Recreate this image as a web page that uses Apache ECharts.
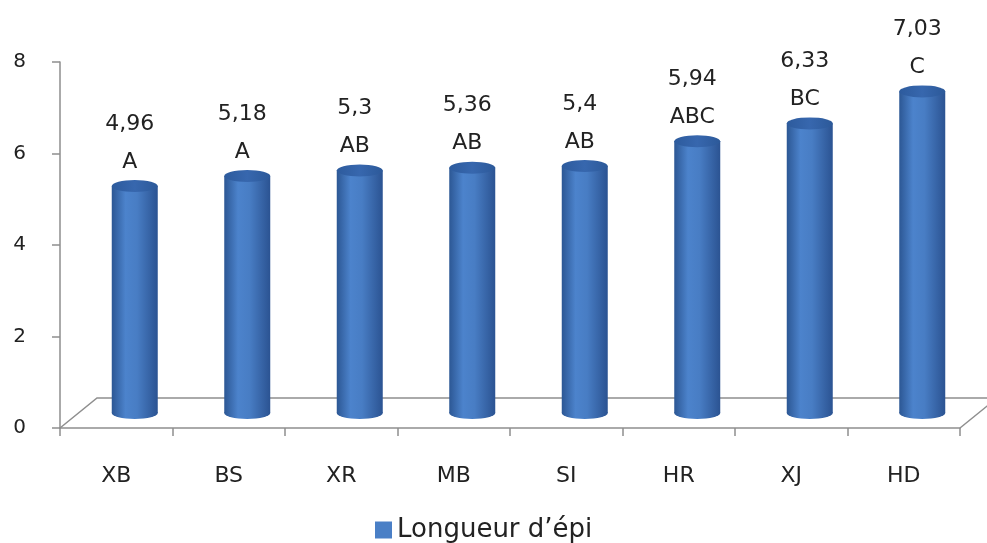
<!DOCTYPE html>
<html>
<head>
<meta charset="utf-8">
<script src="https://cdn.jsdelivr.net/npm/echarts@6/dist/echarts.min.js"></script>
<style>
  html, body { margin: 0; padding: 0; background: #ffffff; }
  #chart { width: 987px; height: 543px; }
</style>
</head>
<body>
<div id="chart"></div>
<script>
// Ear length by variety, with significance groups
const categories = ['XB', 'BS', 'XR', 'MB', 'SI', 'HR', 'XJ', 'HD'];
const values = [4.96, 5.18, 5.3, 5.36, 5.4, 5.94, 6.33, 7.03];
const groups = ['A', 'A', 'AB', 'AB', 'AB', 'ABC', 'BC', 'C'];
const seriesName = 'Longueur d\u2019épi';
const yMin = 0, yMax = 8, yStep = 2;

// Plot layout: front plane of the pseudo-3D box, and its depth offset
const W = 987, H = 543;
const front = { left: 60, top: 62, right: 27, bottom: 115 };
const depth = { dx: 37, dy: -30 };
const mid = { dx: depth.dx / 2, dy: depth.dy / 2 };

const FONT = 'DejaVu Sans';
const axisGray = '#8e8e8e';
const barW = 46;

const bodyColor = new echarts.graphic.LinearGradient(0, 0, 1, 0, [
  { offset: 0, color: '#2c5794' },
  { offset: 0.3, color: '#4c83cc' },
  { offset: 0.55, color: '#487dc4' },
  { offset: 1, color: '#2b5392' }
]);
const capColor = new echarts.graphic.LinearGradient(0, 0, 1, 0, [
  { offset: 0, color: '#2d5b9d' },
  { offset: 0.5, color: '#3767ae' },
  { offset: 1, color: '#2c5999' }
]);

const fmt = v => String(v).replace('.', ',');

const frontOrigin = [front.left, H - front.bottom];
const frontEnd = [W - front.right, H - front.bottom];
const floorGraphics = [
  {
    type: 'polyline', silent: true, z: 1,
    shape: { points: [frontOrigin, [frontOrigin[0] + depth.dx, frontOrigin[1] + depth.dy], [frontEnd[0] + depth.dx, frontEnd[1] + depth.dy]] },
    style: { stroke: axisGray, lineWidth: 1.5, fill: null }
  },
  {
    type: 'line', silent: true, z: 1,
    shape: { x1: frontEnd[0], y1: frontEnd[1], x2: frontEnd[0] + depth.dx, y2: frontEnd[1] + depth.dy },
    style: { stroke: axisGray, lineWidth: 1.5 }
  }
];

const option = {
  backgroundColor: '#ffffff',
  animation: false,
  textStyle: { fontFamily: FONT },
  graphic: floorGraphics,
  legend: {
    bottom: 0,
    left: 375,
    padding: 0,
    itemWidth: 17,
    itemHeight: 17,
    itemGap: 6,
    icon: 'rect',
    data: [{ name: seriesName, itemStyle: { color: '#4a7fc6' } }],
    textStyle: { fontFamily: FONT, fontSize: 26, color: '#222' }
  },
  grid: [
    { left: front.left, top: front.top, right: front.right, bottom: front.bottom },
    { left: front.left + mid.dx, top: front.top + mid.dy, right: front.right - mid.dx, bottom: front.bottom - mid.dy }
  ],
  xAxis: [
    {
      gridIndex: 0, type: 'category', data: categories, boundaryGap: true,
      axisLine: { lineStyle: { color: axisGray, width: 1.5 } },
      axisTick: { show: true, length: 8, lineStyle: { color: axisGray, width: 1.5 } },
      axisLabel: { margin: 37, fontFamily: FONT, fontSize: 22, color: '#222' },
      splitLine: { show: false }
    },
    {
      gridIndex: 1, type: 'category', data: categories, boundaryGap: true,
      show: false
    }
  ],
  yAxis: [
    {
      gridIndex: 0, type: 'value', min: yMin, max: yMax, interval: yStep,
      axisLine: { show: true, lineStyle: { color: axisGray, width: 1.5 } },
      axisTick: { show: true, length: 8, lineStyle: { color: axisGray, width: 1.5 } },
      axisLabel: { margin: 34, fontFamily: FONT, fontSize: 20, color: '#222' },
      splitLine: { show: false }
    },
    {
      gridIndex: 1, type: 'value', min: yMin, max: yMax, interval: yStep,
      show: false
    }
  ],
  series: [
    {
      name: seriesName,
      type: 'bar',
      xAxisIndex: 1, yAxisIndex: 1,
      barWidth: barW,
      z: 3,
      itemStyle: { color: bodyColor },
      data: values,
      label: {
        show: true,
        position: 'top',
        distance: 5,
        offset: [-5, 0],
        formatter: p => fmt(p.value) + '\n' + groups[p.dataIndex],
        fontFamily: FONT,
        fontSize: 22,
        lineHeight: 38,
        color: '#222'
      }
    },
    {
      name: seriesName,
      type: 'pictorialBar',
      xAxisIndex: 1, yAxisIndex: 1,
      symbol: 'circle',
      symbolSize: [barW, 12],
      symbolOffset: [0, '50%'],
      symbolPosition: 'start',
      z: 2,
      itemStyle: { color: bodyColor },
      data: values
    },
    {
      name: seriesName,
      type: 'pictorialBar',
      xAxisIndex: 1, yAxisIndex: 1,
      symbol: 'circle',
      symbolSize: [barW, 12],
      symbolOffset: [0, '-50%'],
      symbolPosition: 'end',
      z: 4,
      itemStyle: { color: capColor },
      data: values
    }
  ]
};

const chart = echarts.init(document.getElementById('chart'), null, { renderer: 'canvas' });
chart.setOption(option);
</script>
</body>
</html>
